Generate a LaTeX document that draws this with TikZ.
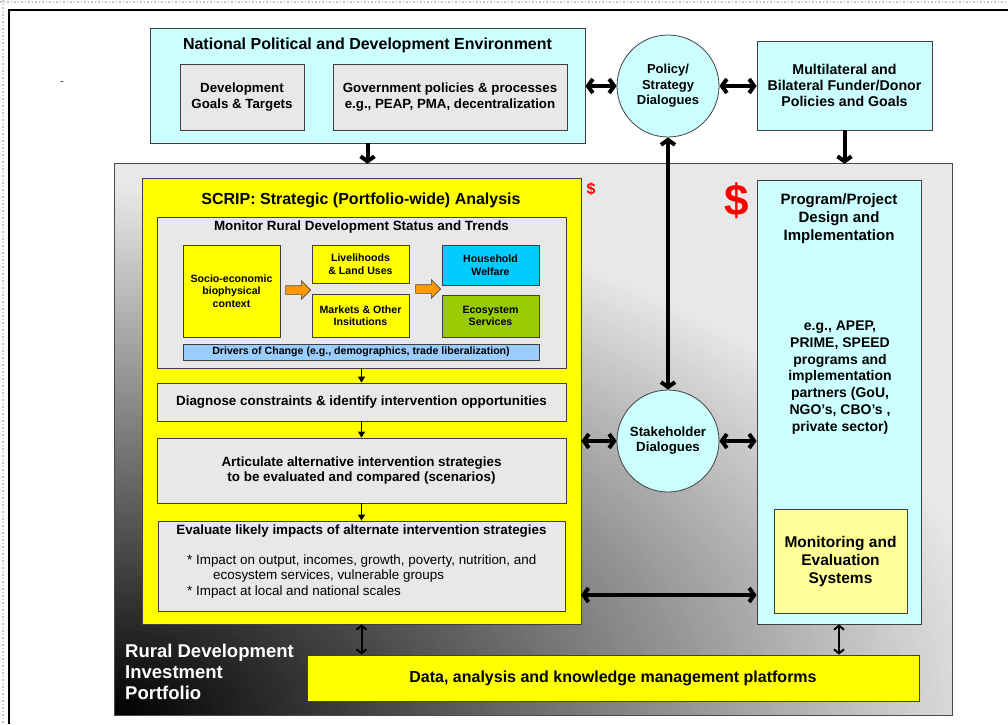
\documentclass[tikz,border=0pt]{standalone}
\usepackage{fontspec}
\setmainfont{Liberation Sans}
\usetikzlibrary{positioning, arrows.meta, shapes.arrows}

\definecolor{cyanbg}{HTML}{CCFFFF}
\definecolor{boxgray}{HTML}{E8E8E8}
\definecolor{hhblue}{HTML}{00CCFF}
\definecolor{ecogreen}{HTML}{99CC00}
\definecolor{drvblue}{HTML}{99CCFF}
\definecolor{mepale}{HTML}{FFFF99}
\definecolor{fatorange}{HTML}{FF9900}
\definecolor{scripyel}{HTML}{FFFF00}

\newcommand{\fsz}[2]{\fontsize{#1}{#2}\selectfont}

\tikzset{
	rbox/.style={draw=black!75, line width=0.8pt, inner sep=0pt, align=center, font=\bfseries}, % every box
	cbox/.style={rbox, fill=cyanbg},
	gbox/.style={rbox, fill=boxgray},
	ybox/.style={rbox, fill=scripyel},
	dlg/.style={rbox, circle, fill=cyanbg, minimum size=102pt}, % the two dialogue circles
	txt/.style={inner sep=0pt, align=center, font=\bfseries},
	flow/.style={line width=4pt, -{Straight Barb[length=5pt,width=14pt]}},
	dflow/.style={line width=4pt, {Straight Barb[length=5pt,width=14pt]}-{Straight Barb[length=5pt,width=14pt]}},
	link/.style={line width=2pt, {Straight Barb[length=4pt,width=10pt]}-{Straight Barb[length=4pt,width=10pt]}},
	stepdown/.style={line width=1pt, -{Triangle[length=6pt,width=7pt]}},
	fat/.style={single arrow, draw=black!70, line width=0.6pt, fill=fatorange, inner sep=4pt, single arrow head extend=5pt, minimum height=25pt},
}

\begin{document}
\begin{tikzpicture}[x=1pt, y=-1pt]
	\useasboundingbox (0,0) rectangle (1008,724);
	% page frame
	\draw[gray!45, dotted, line width=1.5pt] (0,2) -- (1008,2) (3,0) -- (3,724);
	\draw[black, line width=2pt] (8,10) -- (1008,10) (9,10) -- (9,724);
	\node[inner sep=0pt, font=\fsz{10}{12}] (dash) at (62,83) {-};

	% top row
	\node[cbox, minimum width=435pt, minimum height=115pt] (natenv) at (367.5,85.5) {};
	\node[txt, font=\bfseries\fsz{16}{18}, below=10pt of natenv.north] (nattitle) {National Political and Development Environment};
	\node[gbox, minimum width=124pt, minimum height=66pt, font=\bfseries\fsz{13.3}{15.7}] (goals) at (242,97) {Development\\Goals \& Targets};
	\node[gbox, minimum width=234pt, minimum height=66pt, font=\bfseries\fsz{13.3}{15.7}] (govpol) at (450,97) {Government policies \& processes\\e.g., PEAP, PMA, decentralization};
	\node[dlg, font=\bfseries\fsz{13}{15.5}] (policy) at (668,86) {Policy/\\Strategy\\Dialogues};
	\node[cbox, minimum width=175pt, minimum height=89pt, font=\bfseries\fsz{14.2}{16}] (donor) at (844.5,85.5) {Multilateral and\\Bilateral Funder/Donor\\Policies and Goals};

	% portfolio, shaded from black (bottom left) to light grey
	\node[minimum width=837pt, minimum height=551pt, inner sep=0pt] (portfolio) at (533.5,439.5) {};
	\begin{scope}
		\clip (portfolio.north west) rectangle (portfolio.south east);
		\fill[boxgray] (portfolio.north west) rectangle (portfolio.south east);
		\foreach \k in {100,99,...,1} {
			\pgfmathsetmacro\rx{9*\k}
			\pgfmathsetmacro\ry{5.3*\k}
			\fill[boxgray!\k!black] (portfolio.south west) ellipse [x radius=\rx pt, y radius=\ry pt];
		}
	\end{scope}
	\draw[gray!60!black, line width=1pt] (portfolio.north west) rectangle (portfolio.south east);
	\node[txt, anchor=west, align=left, text=white, font=\bfseries\fsz{18.5}{21}] (rural) at (125,672) {Rural Development\\Investment\\Portfolio};

	% SCRIP
	\node[ybox, minimum width=439pt, minimum height=446pt] (scrip) at (361.5,401) {};
	\node[txt, font=\bfseries\fsz{16}{18}] (scriptitle) at (361,200) {SCRIP: Strategic (Portfolio-wide) Analysis};
	\node[txt, text=red, font=\bfseries\fsz{16}{18}] (dollarsm) at (591,189) {\$};
	\node[gbox, minimum width=409pt, minimum height=151pt] (monitor) at (361.5,292.5) {};
	\node[txt, font=\bfseries\fsz{13.4}{15}] (montitle) at (361.5,227) {Monitor Rural Development Status and Trends};
	\node[ybox, minimum width=97pt, minimum height=92pt, font=\bfseries\fsz{10.6}{12.5}] (socio) at (231.5,291) {Socio-economic\\biophysical\\context};
	\node[ybox, minimum width=97pt, minimum height=38pt, font=\bfseries\fsz{10.6}{12.5}] (livel) at (360.5,264) {Livelihoods\\\& Land Uses};
	\node[ybox, minimum width=97pt, minimum height=43pt, font=\bfseries\fsz{10.6}{12.5}] (markets) at (360.5,315.5) {Markets \& Other\\Insitutions};
	\node[rbox, fill=hhblue, minimum width=97pt, minimum height=40pt, font=\bfseries\fsz{10.6}{12.5}] (house) at (490.5,265) {Household\\Welfare};
	\node[rbox, fill=ecogreen, minimum width=97pt, minimum height=42pt, font=\bfseries\fsz{10.6}{12.5}] (eco) at (490.5,316) {Ecosystem\\Services};
	\node[fat] (fat1) at (296,290) {};
	\node[fat] (fat2) at (426,289) {};
	\node[rbox, fill=drvblue, minimum width=356pt, minimum height=16pt, font=\bfseries\fsz{10.6}{12.5}] (drivers) at (361,352) {Drivers of Change (e.g., demographics, trade liberalization)};
	\node[gbox, minimum width=409pt, minimum height=38pt, font=\bfseries\fsz{13.4}{15}] (diag) at (361.5,402) {Diagnose constraints \& identify intervention opportunities};
	\node[gbox, minimum width=409pt, minimum height=65pt, font=\bfseries\fsz{13.4}{15}] (artic) at (361.5,470.5) {Articulate alternative intervention strategies\\to be evaluated and compared (scenarios)};
	\node[gbox, minimum width=407pt, minimum height=90pt] (evalb) at (361.5,566) {};
	\node[txt, font=\bfseries\fsz{13.4}{15}] (evaltitle) at (361.5,531) {Evaluate likely impacts of alternate intervention strategies};
	\node[txt, anchor=west, align=left, font=\fsz{13.4}{15.5}] (evalbul) at (187,576.5) {* Impact on output, incomes, growth, poverty, nutrition, and\\\hspace*{26pt}ecosystem services, vulnerable groups\\* Impact at local and national scales};

	% right column
	\node[dlg, font=\bfseries\fsz{13.3}{15}] (stake) at (668,441) {Stakeholder\\Dialogues};
	\node[cbox, minimum width=164pt, minimum height=444pt] (program) at (839,402) {};
	\node[txt, text=red, font=\bfseries\fsz{44}{44}] (dollarbig) at (737,201) {\$};
	\node[txt, font=\bfseries\fsz{15}{18}] (progtitle) at (839,219) {Program/Project\\Design and\\Implementation};
	\node[txt, font=\bfseries\fsz{14}{16.8}] (egtext) at (840,377.5) {e.g., APEP,\\PRIME, SPEED\\programs and\\implementation\\partners (GoU,\\NGO’s, CBO’s ,\\private sector)};
	\node[rbox, fill=mepale, minimum width=133pt, minimum height=104pt, font=\bfseries\fsz{15.5}{18}] (mande) at (840.5,561) {Monitoring and\\Evaluation\\Systems};
	\node[ybox, minimum width=612pt, minimum height=46pt, font=\bfseries\fsz{16}{18}] (data) at (613,678) {Data, analysis and knowledge management platforms};
	\coordinate (melink) at (581,595);

	% connectors
	\draw[dflow] (natenv.east |- policy.west) -- (policy.west);
	\draw[dflow] (policy.east) -- (donor.west |- policy.east);
	\draw[flow] (natenv.south) -- (natenv.south |- portfolio.north);
	\draw[flow] (donor.south) -- (donor.south |- portfolio.north);
	\draw[dflow] (policy.south) -- (stake.north);
	\draw[dflow] (stake.west) -- (scrip.east |- stake.west);
	\draw[dflow] (stake.east) -- (program.west |- stake.east);
	\draw[dflow] (melink) -- (melink -| program.west);
	\draw[stepdown] (monitor.south) -- (diag.north);
	\draw[stepdown] (diag.south) -- (artic.north);
	\draw[stepdown] (artic.south) -- (evalb.north);
	\draw[link] (scrip.south) -- (scrip.south |- data.north);
	\draw[link] (program.south) -- (program.south |- data.north);
\end{tikzpicture}
\end{document}
